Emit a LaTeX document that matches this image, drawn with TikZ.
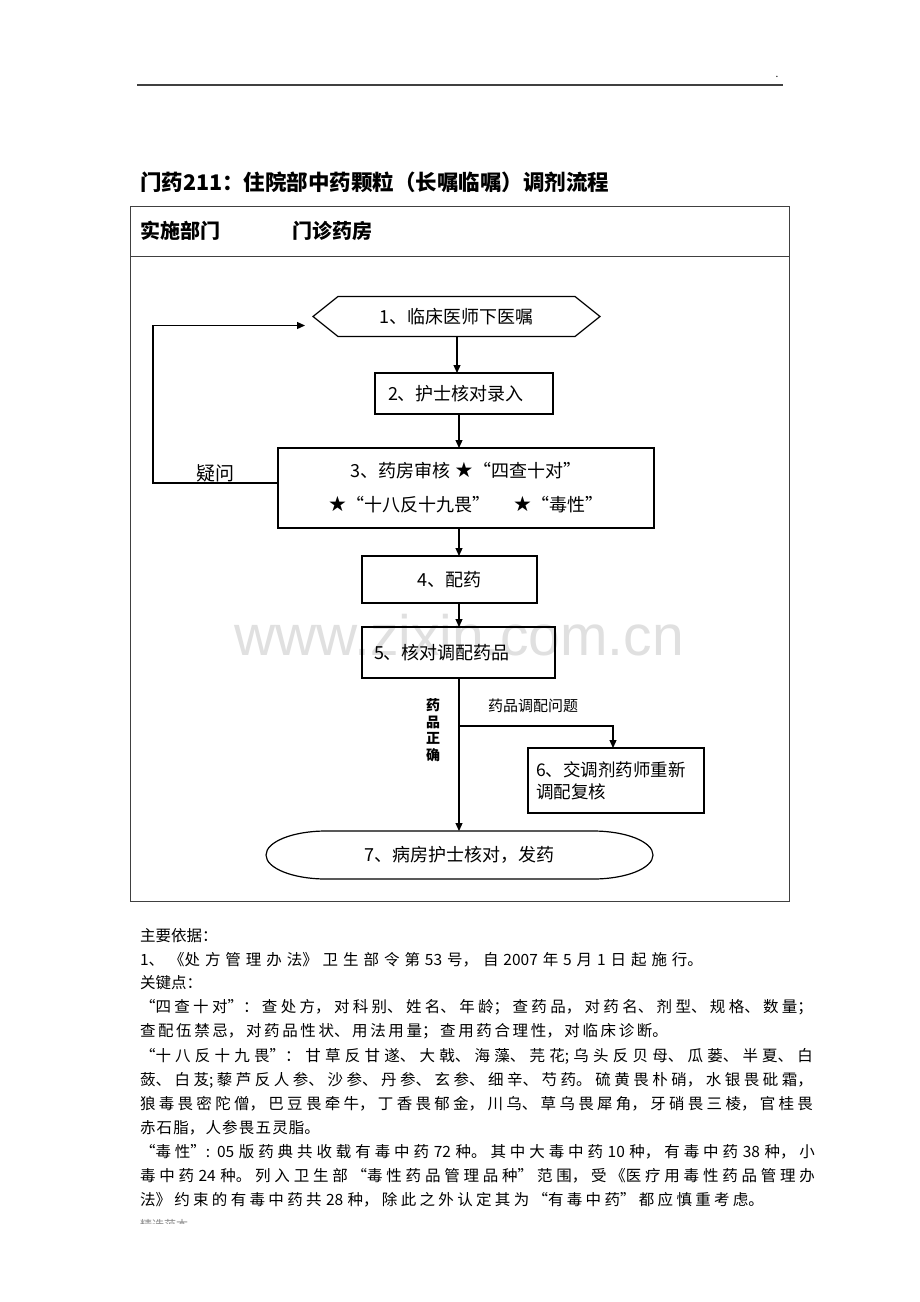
\documentclass[tikz,border=0pt]{standalone}
\usepackage{fontspec}
\setmainfont{Noto Sans CJK SC}
\newfontfamily\starfont{DejaVu Sans}
\newfontfamily\wmfont{Liberation Sans}
\usetikzlibrary{arrows.meta}
\XeTeXlinebreaklocale "zh"
\XeTeXlinebreakskip=0pt plus 6pt
\hbadness=10000
\newcommand\jline[2]{\parbox{#1pt}{\parfillskip=0pt\relax #2\par}}
\newcommand\bstar{{\starfont\fontsize{21}{21}\selectfont ★}}
\begin{document}
\begin{tikzpicture}[x=1pt,y=-1pt,
  every node/.style={outer sep=0pt},
  fbox/.style={draw, line width=1.2pt, inner sep=0pt, font=\fontsize{18}{22}\selectfont},
  arr/.style={line width=1.2pt, -{Triangle[length=8pt,width=7pt]}},
  body/.style={anchor=west, inner sep=0pt, font=\fontsize{15.5}{24}\selectfont},
  lbl/.style={inner sep=0pt}]
\fill[white] (0,0) rectangle (920,1302);
\useasboundingbox (0,0) rectangle (920,1302);

% watermark
\node[lbl, text=black!12, font=\wmfont\fontsize{57}{57}\selectfont] (wm) at (459,635) {www.zixin.com.cn};

% top rule and dot
\draw[line width=1.4pt, black!75] (137,85) -- (783,85);
\node[lbl, font=\fontsize{10}{10}\selectfont] (dot) at (777,77) {.};

% title
\node[lbl, anchor=west, font=\fontsize{21.5}{22}\selectfont\bfseries] (title) at (140,182) {门药211：住院部中药颗粒（长嘱临嘱）调剂流程};

% table frame
\draw[line width=1pt, black!75] (130,206) rectangle (789,901);
\draw[line width=1pt, black!75] (130,256) -- (789,256);
\node[lbl, anchor=west, font=\fontsize{20}{20}\selectfont\bfseries] (hd1) at (140,231) {实施部门};
\node[lbl, anchor=west, font=\fontsize{20}{20}\selectfont\bfseries] (hd2) at (292,231) {门诊药房};

% flow nodes
\node[lbl, minimum width=287pt, minimum height=40pt, font=\fontsize{18}{22}\selectfont] (h1) at (456.5,316.5) {1、临床医师下医嘱};
\draw[line width=1.2pt] (h1.west) -- ([xshift=25pt]h1.north west) -- ([xshift=-25pt]h1.north east) -- (h1.east) -- ([xshift=-25pt]h1.south east) -- ([xshift=25pt]h1.south west) -- cycle;

\node[fbox, minimum width=178pt, minimum height=41pt, text width=152pt, align=left, inner xsep=13pt] (n2) at (464,393.5) {2、护士核对录入};

\node[fbox, minimum width=376pt, minimum height=80pt, align=center, font=\fontsize{18}{24}\selectfont] (n3) at (466,488) {3、药房审核 \bstar“四查十对”\\[10pt]\bstar“十八反十九畏”\quad\ \bstar“毒性”};

\node[fbox, minimum width=175pt, minimum height=47pt] (n4) at (449.5,579.5) {4、配药};

\node[fbox, minimum width=193pt, minimum height=51pt, text width=169pt, align=left, inner xsep=12pt] (n5) at (458.5,652.5) {5、核对调配药品};

\node[fbox, minimum width=176pt, minimum height=65pt, text width=160pt, align=left, inner xsep=8pt, font=\fontsize{17.5}{22}\selectfont] (n6) at (616,780.5) {6、交调剂药师重新\\调配复核};

\node[lbl, minimum width=387pt, minimum height=48pt, font=\fontsize{18}{22}\selectfont] (n7) at (459.5,855) {7、病房护士核对，发药};
\draw[line width=1.2pt] ([xshift=60pt]n7.north west) -- ([xshift=-60pt]n7.north east)
  arc[start angle=-90, end angle=90, x radius=60, y radius=24]
  -- ([xshift=60pt]n7.south west)
  arc[start angle=90, end angle=270, x radius=60, y radius=24] -- cycle;

% labels
\node[lbl, font=\fontsize{19}{19}\selectfont] (q) at (215,473) {疑问};
\node[lbl, font=\fontsize{15}{15}\selectfont] (lp) at (533,706) {药品调配问题};
\node[lbl, align=center, font=\fontsize{14}{16.5}\selectfont\bfseries] (lc) at (433,730) {药\\品\\正\\确};

% connectors
\coordinate (ax1) at (457,0);
\coordinate (sp) at (459,0);
\coordinate (br) at (459,726);
\draw[arr] (h1.south -| ax1) -- (n2.north -| ax1);
\draw[arr] (n2.south -| sp) -- (n3.north -| sp);
\draw[arr] (n3.south -| sp) -- (n4.north -| sp);
\draw[arr] (n4.south -| sp) -- (n5.north -| sp);
\draw[arr] (n5.south -| sp) -- (n7.north -| sp);
\draw[arr] (br) -| ([xshift=-3pt]n6.north);
\draw[arr] ([yshift=5pt]n3.west) -- ++(-125,0) |- ([xshift=-8pt,yshift=-9pt]h1.west);

% body text
\node[body] (t1) at (140,936) {主要依据：};
\node[body] (t2) at (140,960) {\jline{563}{1、《处方管理办法》 卫生部令第 53 号，自 2007 年 5 月 1 日起施行。}};
\node[body] (t3) at (140,983) {关键点：};
\node[body] (t4) at (140,1007) {\jline{673}{“四查十对”：查处方，对科别、姓名、年龄；查药品，对药名、剂型、规格、数量；}};
\node[body] (t5) at (140,1031) {\jline{528}{查配伍禁忌，对药品性状、用法用量；查用药合理性，对临床诊断。}};
\node[body] (t6) at (140,1056) {\jline{673}{“十八反十九畏”： 甘草反甘遂、大戟、海藻、芫花;乌头反贝母、瓜蒌、半夏、白}};
\node[body] (t7) at (140,1080) {\jline{673}{蔹、白芨;藜芦反人参、沙参、丹参、玄参、细辛、芍药。硫黄畏朴硝，水银畏砒霜，}};
\node[body] (t8) at (140,1104) {\jline{673}{狼毒畏密陀僧，巴豆畏牵牛，丁香畏郁金，川乌、草乌畏犀角，牙硝畏三棱，官桂畏}};
\node[body] (t9) at (140,1128) {\jline{180}{赤石脂，人参畏五灵脂。}};
\node[body] (t10) at (140,1152) {\jline{675}{“毒性”: 05 版药典共收载有毒中药 72 种。其中大毒中药 10 种，有毒中药 38 种，小}};
\node[body] (t11) at (140,1176) {\jline{675}{毒中药 24 种。列入卫生部“毒性药品管理品种”范围，受《医疗用毒性药品管理办}};
\node[body] (t12) at (140,1200) {\jline{624}{法》约束的有毒中药共 28 种，除此之外认定其为“有毒中药”都应慎重考虑。}};

% faint footer
\begin{scope}
\clip (130,1212) rectangle (230,1223);
\node[lbl, anchor=west, text=black!45, font=\fontsize{12}{12}\selectfont] (ft) at (140,1225) {精选范本};
\end{scope}
\end{tikzpicture}
\end{document}
